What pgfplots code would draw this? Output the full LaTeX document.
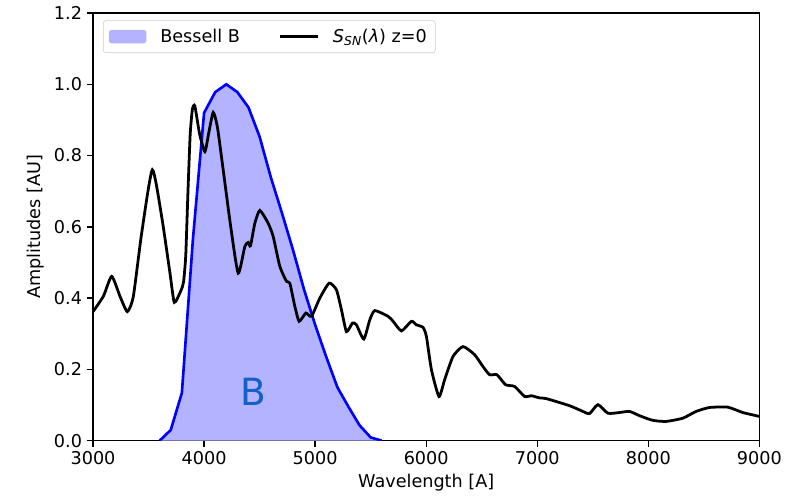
\documentclass[border=0pt]{standalone}
\usepackage{fontspec}
\setmainfont{DejaVu Sans}
\usepackage{pgfplots}
\pgfplotsset{compat=1.18}

\definecolor{bfill}{RGB}{179,179,255}
\definecolor{btext}{RGB}{21,96,200}

\pgfplotstableread{
x y
3600 0.000
3700 0.030
3800 0.134
3900 0.567
4000 0.920
4100 0.978
4200 1.000
4300 0.978
4400 0.935
4500 0.853
4600 0.740
4700 0.640
4800 0.536
4900 0.424
5000 0.325
5100 0.235
5200 0.150
5300 0.095
5400 0.043
5500 0.009
5600 0.000
}\bessellB

\pgfplotstableread{
x y
3000 0.362
3093 0.405
3168 0.461
3243 0.405
3309 0.362
3363 0.405
3438 0.582
3534 0.760
3618 0.629
3693 0.470
3732 0.388
3790 0.420
3815 0.445
3835 0.520
3855 0.700
3875 0.860
3895 0.930
3917 0.939
3960 0.860
4007 0.811
4040 0.860
4082 0.921
4120 0.880
4172 0.760
4240 0.600
4307 0.470
4367 0.545
4397 0.556
4418 0.547
4457 0.610
4502 0.646
4577 0.610
4622 0.573
4682 0.489
4742 0.447
4772 0.442
4817 0.377
4856 0.335
4916 0.358
4967 0.349
5042 0.400
5126 0.442
5192 0.423
5237 0.367
5282 0.306
5336 0.330
5372 0.325
5438 0.285
5492 0.339
5537 0.365
5656 0.349
5702 0.335
5777 0.308
5867 0.335
5912 0.325
5971 0.318
6002 0.292
6047 0.199
6115 0.124
6166 0.171
6241 0.236
6331 0.264
6436 0.241
6511 0.208
6571 0.185
6637 0.185
6715 0.157
6796 0.152
6886 0.124
6946 0.126
7021 0.120
7081 0.118
7291 0.098
7411 0.082
7471 0.076
7546 0.101
7636 0.077
7741 0.079
7831 0.082
7921 0.070
8040 0.057
8160 0.054
8310 0.063
8430 0.082
8550 0.093
8715 0.094
8850 0.079
9000 0.068
}\spectrum

\begin{document}
\begin{tikzpicture}
\begin{axis}[
    scale only axis,
    width=480pt, height=308pt,
    xmin=3000, xmax=9000,
    ymin=0, ymax=1.2,
    xtick={3000,4000,...,9000},
    ytick={0,0.2,...,1.2},
    yticklabel style={/pgf/number format/.cd, fixed, fixed zerofill, precision=1},
    xticklabel style={/pgf/number format/.cd, 1000 sep={}},
    /pgf/number format/assume math mode=true,
    tick align=outside,
    tick pos=left,
    major tick length=4.4pt,
    every tick/.style={black, line width=1pt},
    axis line style={line width=1pt},
    xlabel={Wavelength [A]},
    ylabel={Amplitudes [AU]},
    tick label style={font=\fontsize{12.7}{15}\selectfont},
    label style={font=\fontsize{12.7}{15}\selectfont},
    legend columns=2,
    legend style={at={(0.015,0.983)}, anchor=north west, draw=black!20, rounded corners=2pt,
      font=\fontsize{12.7}{15}\selectfont, inner xsep=4pt, inner ysep=4pt,
      /tikz/every odd column/.append style={column sep=8pt},
      /tikz/every even column/.append style={column sep=26pt}},
    legend cell align=left,
]
\addplot[fill=bfill, draw=none,
  legend image code/.code={\fill[bfill] (0cm,-0.17cm) rectangle (0.95cm,0.17cm);}]
  table[x=x,y=y] {\bessellB} \closedcycle;
\addlegendentry{Bessell B}
\addplot[blue, line width=1.9pt, forget plot] table[x=x,y=y] {\bessellB};
\addplot[black, line width=2pt, smooth, tension=0.35,
  legend image code/.code={\draw[black, line width=2pt] (0cm,0cm) -- (0.95cm,0cm);}]
  table[x=x,y=y] {\spectrum};
\addlegendentry{\textit{S}\textsubscript{\textit{SN}}(\textit{λ}) z=0}
\node[text=btext, font=\fontsize{27}{30}\selectfont] at (axis cs:4440,0.137) {B};
\end{axis}
\path (current axis.south west) ++(-67pt,-40pt) coordinate (bl);
\path (current axis.north east) ++(35pt,9.4pt) coordinate (tr);
\useasboundingbox (bl) rectangle (tr);
\end{tikzpicture}
\end{document}
